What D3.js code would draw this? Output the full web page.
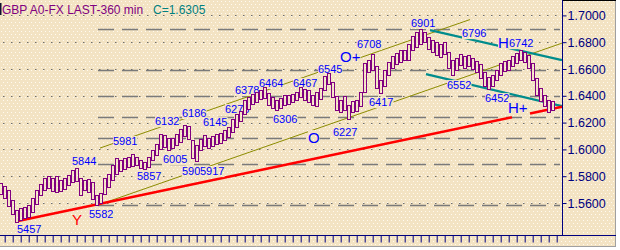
<!DOCTYPE html>
<html>
<head>
<meta charset="utf-8">
<script src="https://cdn.jsdelivr.net/npm/d3@7"></script>
<style>
body { margin: 0; background: #ffffff; }
svg { display: block; }
text { font-family: Arial, "Liberation Sans", sans-serif; }
</style>
</head>
<body>
<script>
var plotRight = 562,
	plotBottom = 235;

// 12-hour bars, values in pips above 1.0000 (5457 = 1.5457)
var highs = [5749, 5726, 5696, 5622, 5547, 5562, 5569, 5584, 5637, 5696,
	5741, 5786, 5801, 5786, 5801, 5771, 5786, 5808, 5846, 5860,
	5786, 5771, 5778, 5756, 5659, 5674, 5786, 5816, 5883, 5935,
	5920, 5935, 5943, 5965, 5943, 5920, 5905, 5943, 5995, 6040,
	6114, 6107, 6084, 6084, 6114, 6151, 6181, 6174, 6069, 6032,
	6077, 6107, 6084, 6099, 6114, 6122, 6144, 6166, 6226, 6263,
	6286, 6368, 6390, 6413, 6428, 6443, 6465, 6420, 6390, 6368,
	6383, 6405, 6405, 6413, 6428, 6465, 6450, 6443, 6405, 6428,
	6457, 6547, 6569, 6502, 6398, 6368, 6398, 6331, 6360, 6368,
	6428, 6644, 6666, 6711, 6622, 6517, 6592, 6651, 6696, 6719,
	6741, 6741, 6786, 6846, 6875, 6901, 6875, 6838, 6816, 6801,
	6786, 6801, 6726, 6666, 6681, 6711, 6696, 6704, 6681, 6659,
	6637, 6577, 6540, 6554, 6592, 6644, 6659, 6666, 6696, 6719,
	6742, 6726, 6704, 6644, 6532, 6457, 6405, 6368, 6360];
var lows = [5666, 5637, 5577, 5517, 5457, 5472, 5487, 5495, 5532, 5592,
	5659, 5696, 5711, 5689, 5681, 5689, 5704, 5734, 5756, 5763,
	5659, 5696, 5681, 5629, 5582, 5599, 5666, 5719, 5771, 5816,
	5838, 5853, 5868, 5875, 5883, 5860, 5853, 5868, 5920, 5957,
	6002, 6017, 5995, 6010, 6032, 6054, 6099, 6077, 5935, 5917,
	5995, 6025, 6010, 6025, 6040, 6047, 6069, 6092, 6129, 6166,
	6211, 6263, 6301, 6338, 6353, 6375, 6383, 6331, 6308, 6293,
	6308, 6331, 6338, 6353, 6368, 6390, 6368, 6353, 6331, 6323,
	6375, 6443, 6487, 6390, 6293, 6278, 6293, 6227, 6278, 6286,
	6323, 6428, 6577, 6592, 6457, 6420, 6472, 6554, 6607, 6637,
	6651, 6666, 6666, 6741, 6763, 6786, 6801, 6748, 6726, 6704,
	6689, 6711, 6607, 6552, 6592, 6629, 6607, 6622, 6599, 6577,
	6532, 6472, 6452, 6472, 6517, 6554, 6584, 6592, 6622, 6644,
	6666, 6651, 6607, 6517, 6405, 6360, 6323, 6278, 6293];
var lastClose = 1.6305;

var priceTicks = [1.70, 1.68, 1.66, 1.64, 1.62, 1.60, 1.58, 1.56];
var fibLevels = [1.6901, 1.6590, 1.6397, 1.6242, 1.6086, 1.5893, 1.5582];
var fibStartBar = 24.25;

// trend lines: [bar, pips] end points, drawn over the listed bar spans
var redLine = {a: [4.25, 5465], b: [140.25, 6318], spans: [[4.25, 127.75], [132.25, 140.25]]};
var oliveLow = {a: [24, 5582], b: [140.25, 6793], spans: [[24, 140.25]]};
var oliveHigh = {a: [24.75, 6010], b: [117.25, 6969], spans: [[24.75, 117.25]]};
var tealHigh = {a: [107.25, 6890], b: [140.25, 6666], spans: [[107.25, 140.25]]};
var tealLow = {a: [106.25, 6562], b: [140.25, 6323], spans: [[106.25, 140.25]]};

// swing labels: text, bar at left edge, pips at baseline
var swingLabels = [
	["5457", 4, 5375], ["5582", 22, 5487], ["5844", 17.75, 5883], ["5981", 28, 6032],
	["5857", 34, 5771], ["6132", 38.5, 6181], ["6186", 45.25, 6241], ["6005", 40.5, 5898],
	["590", 45.25, 5808], ["5917", 49.75, 5808], ["6145", 50.5, 6174], ["6278", 56, 6271],
	["6378", 58.5, 6413], ["6464", 64.5, 6465], ["6306", 68, 6196], ["6467", 73, 6465],
	["6545", 79.25, 6569], ["6227", 83, 6099], ["6708", 89, 6756], ["6417", 92, 6323],
	["6901", 102.5, 6913], ["6796", 115.25, 6838], ["6742", 127, 6763], ["6552", 111.5, 6450],
	["6452", 121, 6353]
];
var patternLabels = [
	["Y", 17.75, 5435, "#ff0000"], ["O", 76.75, 6047, "#0000ff"], ["O+", 84.75, 6651, "#0000ff"],
	["H", 124.25, 6756, "#0000ff"], ["H+", 126.75, 6271, "#0000ff"]
];

var dayTicks = d3.range(0.925, 139.5, 2);

function pip(v) { return 1 + v / 10000; }

var x = d3.scaleLinear().domain([0, 138]).range([1, 553]);
var y = d3.scaleLinear().domain([1.56, 1.70]).range([203, 15.4]);

var svg = d3.select("body").append("svg")
	.attr("width", 620)
	.attr("height", 250);

var pat = svg.append("defs").append("pattern")
	.attr("id", "dots")
	.attr("patternUnits", "userSpaceOnUse")
	.attr("width", 4)
	.attr("height", 6);
pat.append("rect").attr("width", 4).attr("height", 6).attr("fill", "#f3e3c3");
pat.append("rect").attr("x", 1).attr("y", 1).attr("width", 1).attr("height", 1).attr("fill", "#fffaf0");
pat.append("rect").attr("x", 3).attr("y", 4).attr("width", 1).attr("height", 1).attr("fill", "#fffaf0");

svg.append("rect")
	.attr("width", 616)
	.attr("height", 247)
	.attr("fill", "url(#dots)");

// frame
svg.append("line").attr("x1", 615.5).attr("x2", 615.5).attr("y1", 0).attr("y2", 247)
	.attr("stroke", "#a0a0a0");
svg.append("line").attr("x1", 0).attr("x2", 616).attr("y1", 246.5).attr("y2", 246.5)
	.attr("stroke", "#a0a0a0");
svg.append("line").attr("x1", plotRight).attr("x2", 616).attr("y1", 0.5).attr("y2", 0.5)
	.attr("stroke", "#000000");

// dotted price grid
svg.selectAll(".grid")
	.data(priceTicks)
	.enter().append("line")
	.attr("class", "grid")
	.attr("x1", 0)
	.attr("x2", plotRight)
	.attr("y1", function(d) { return Math.round(y(d)) + 0.5; })
	.attr("y2", function(d) { return Math.round(y(d)) + 0.5; })
	.attr("stroke", "#6e6e6e")
	.attr("stroke-width", 1.2)
	.style("stroke-dasharray", "1.5,6.5")
	.style("stroke-dashoffset", -3);

// fibonacci levels
svg.selectAll(".fib")
	.data(fibLevels)
	.enter().append("line")
	.attr("class", "fib")
	.attr("x1", x(fibStartBar))
	.attr("x2", plotRight - 2)
	.attr("y1", function(d) { return Math.round(y(d)) + 0.5; })
	.attr("y2", function(d) { return Math.round(y(d)) + 0.5; })
	.attr("stroke", "#7a7a7a")
	.attr("stroke-width", 1.3)
	.style("stroke-dasharray", "16,8");

function lineAt(l, i) {
	var t = (i - l.a[0]) / (l.b[0] - l.a[0]);
	return pip(l.a[1] + t * (l.b[1] - l.a[1]));
}

function drawTrend(l, colour, w) {
	l.spans.forEach(function(s) {
		svg.append("line")
			.attr("x1", x(s[0]))
			.attr("y1", y(lineAt(l, s[0])))
			.attr("x2", x(s[1]))
			.attr("y2", y(lineAt(l, s[1])))
			.attr("stroke", colour)
			.attr("stroke-width", w);
	});
}

drawTrend(oliveLow, "#8c8c00", 1);
drawTrend(oliveHigh, "#8c8c00", 1);
drawTrend(tealHigh, "#008c8c", 2.2);
drawTrend(tealLow, "#008c8c", 2.2);
drawTrend(redLine, "#ff0000", 2.6);

// labels sit on opaque boxes which hide the lines behind them
function addLabel(t, bar, p, colour, size) {
	var g = svg.append("g");
	var txt = g.append("text")
		.attr("x", x(bar))
		.attr("y", y(pip(p)))
		.attr("fill", colour)
		.style("font-size", size + "px")
		.text(t);
	var bb = txt.node().getBBox();
	g.insert("rect", "text")
		.attr("x", bb.x)
		.attr("y", bb.y + 1)
		.attr("width", bb.width)
		.attr("height", bb.height - 1)
		.attr("fill", "url(#dots)");
}

swingLabels.forEach(function(d) { addLabel(d[0], d[1], d[2], "#0000ff", 11); });
patternLabels.forEach(function(d) { addLabel(d[0], d[1], d[2], d[3], 15); });

// price bars, drawn hollow like the terminal does
svg.selectAll(".bar")
	.data(highs)
	.enter().append("rect")
	.attr("class", "bar")
	.attr("x", function(d, i) { return Math.round(x(i)) - 1.5; })
	.attr("width", 3)
	.attr("y", function(d) { return Math.round(y(pip(d))) + 0.5; })
	.attr("height", function(d, i) {
		return Math.max(1, Math.round(y(pip(lows[i]))) - Math.round(y(pip(d))));
	})
	.attr("fill", "url(#dots)")
	.attr("stroke", "#800080")
	.attr("stroke-width", 1);

// axes
svg.append("line")
	.attr("x1", plotRight + 0.5).attr("x2", plotRight + 0.5)
	.attr("y1", 0).attr("y2", plotBottom)
	.attr("stroke", "#000080");
svg.append("line")
	.attr("x1", 0).attr("x2", 616)
	.attr("y1", plotBottom + 0.5).attr("y2", plotBottom + 0.5)
	.attr("stroke", "#000080");

var yAxis = svg.append("g")
	.attr("transform", "translate(" + (plotRight + 0.5) + ",0)")
	.call(d3.axisRight(y)
		.tickValues(priceTicks)
		.tickSize(4)
		.tickPadding(1)
		.tickFormat(d3.format(".4f")));
yAxis.select(".domain").remove();
yAxis.selectAll("line").attr("stroke", "#000080");
yAxis.selectAll("text")
	.attr("fill", "#000080")
	.style("font-size", "12.5px")
	.style("font-family", "Arial, 'Liberation Sans', sans-serif");

var xAxis = svg.append("g")
	.attr("transform", "translate(0," + (plotBottom + 0.5) + ")")
	.call(d3.axisBottom(x)
		.tickValues(dayTicks)
		.tickSize(7)
		.tickFormat(""));
xAxis.select(".domain").remove();
xAxis.selectAll("line").attr("stroke", "#000080");

// header
svg.append("rect").attr("x", 0).attr("y", 3).attr("width", 1.5).attr("height", 12).attr("fill", "#101030");
svg.append("text")
	.attr("x", 2)
	.attr("y", 14)
	.attr("fill", "#800080")
	.style("font-size", "12px")
	.text("GBP A0-FX LAST-360 min");
svg.append("text")
	.attr("x", 153)
	.attr("y", 14)
	.attr("fill", "#008080")
	.style("font-size", "12px")
	.text("C=" + d3.format(".4f")(lastClose));
</script>
</body>
</html>
